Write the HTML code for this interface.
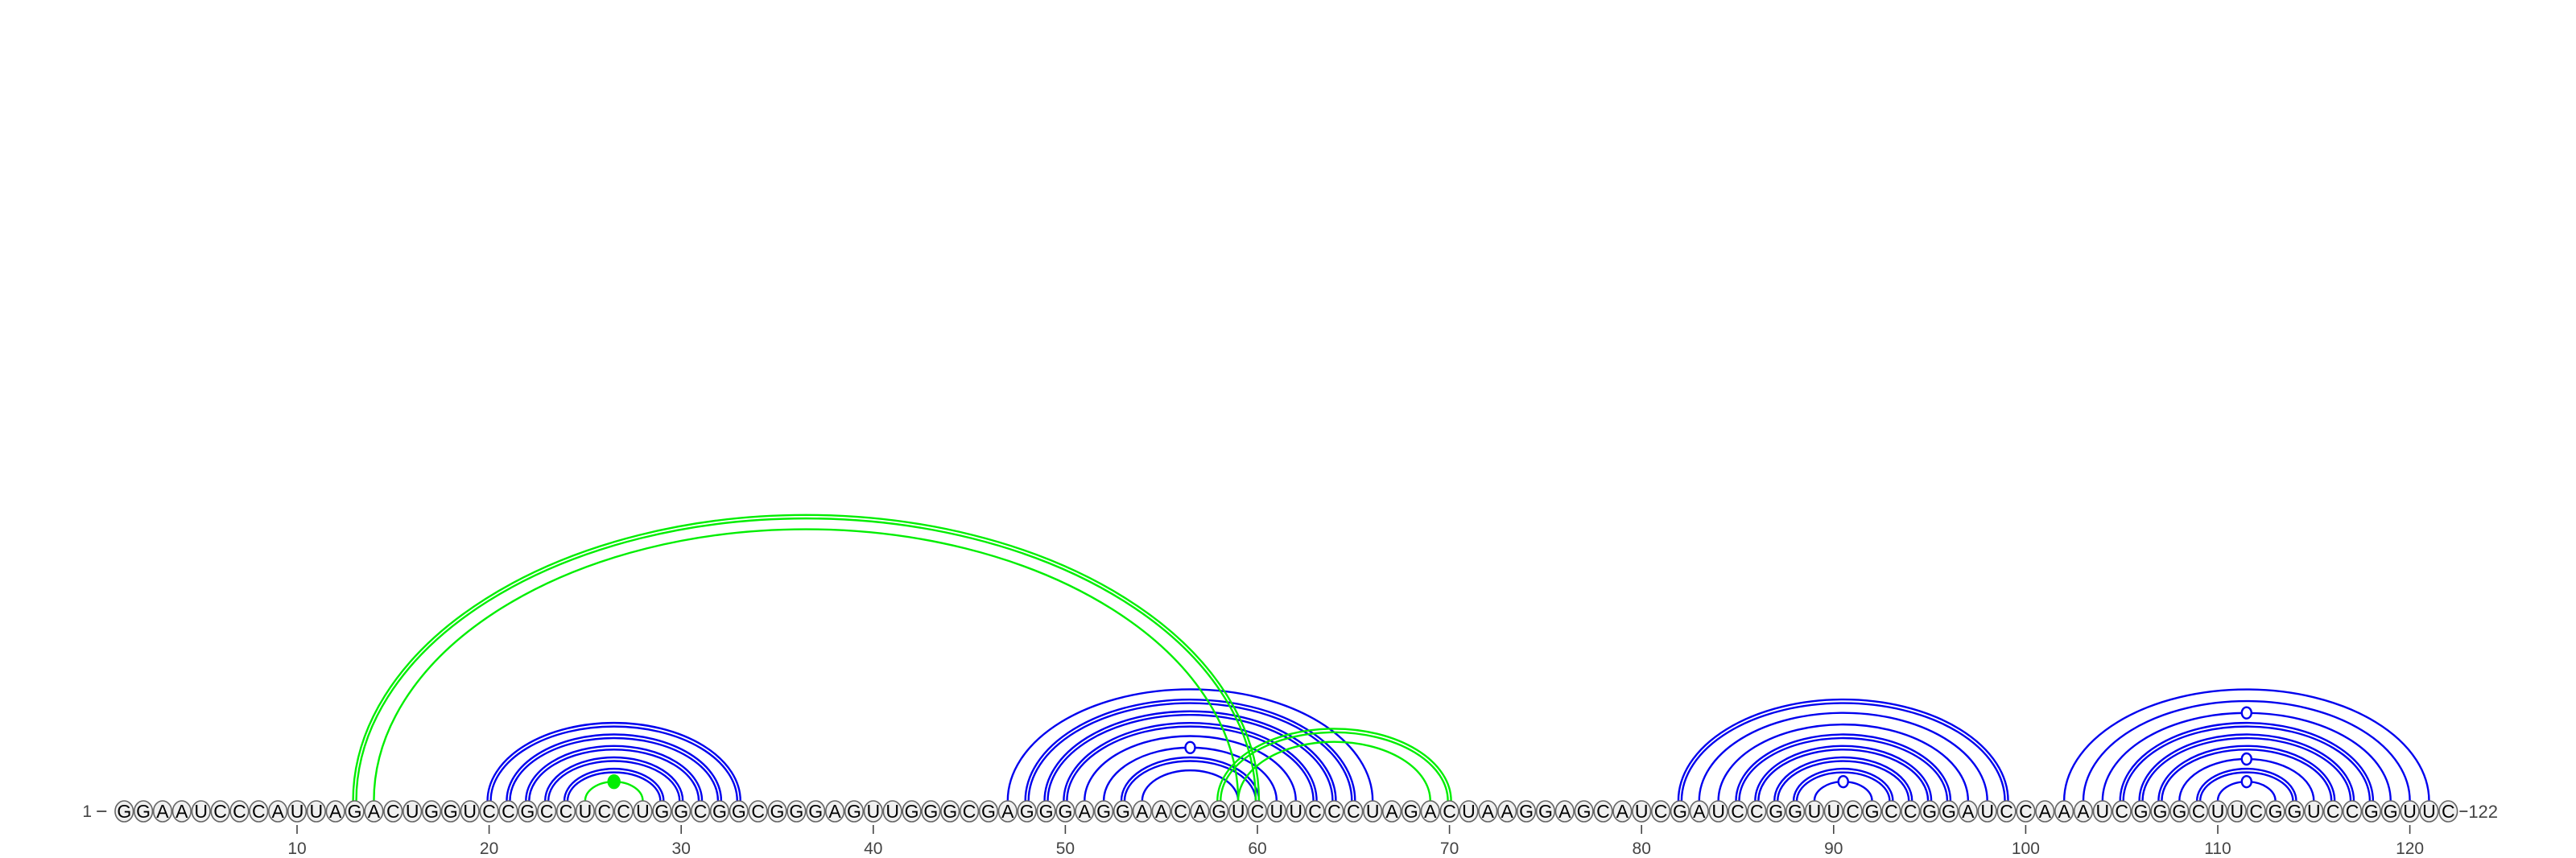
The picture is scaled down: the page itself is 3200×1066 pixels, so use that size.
<!DOCTYPE html>
<html><head><meta charset="utf-8"><style>
body{margin:0;background:#fff;}
svg{display:block;font-family:"Liberation Sans",sans-serif;}
</style></head><body>
<svg id="chart" width="3200" height="1066" viewBox="0 0 3200 1066" xmlns="http://www.w3.org/2000/svg">
<g id="arcs"></g>
<g id="nts"></g>
<g id="axis"></g>
</svg>
<script>
const sequence = "GGAAUCCCAUUAGACUGGUCCGCCUCCUGGCGGCGGGAGUUGGGCGAGGGAGGAACAGUCUUCCCUAGACUAAGGAGCAUCGAUCCGGUUCGCCGGAUCCAAAUCGGGCUUCGGUCCGGUUC";
// pairs: [i, j, style] style: 1 single, 2 double, 'o' open dot, 'f' filled dot
const bluePairs = [
 [20,33,2],[21,32,2],[22,31,2],[23,30,2],[24,29,2],
 [47,66,1],[48,65,2],[49,64,2],[50,63,2],[51,62,1],[52,61,'o'],[53,60,2],[54,59,1],
 [82,99,2],[83,98,1],[84,97,1],[85,96,2],[86,95,2],[87,94,2],[88,93,2],[89,92,'o'],
 [102,121,1],[103,120,1],[104,119,'o'],[105,118,2],[106,117,2],[107,116,2],[108,115,'o'],[109,114,2],[110,113,'o']
];
const greenPairs = [[25,28,'f'],[13,60,2],[14,59,1],[58,70,2],[59,69,1]];
const tickLabels = [10,20,30,40,50,60,70,80,90,100,110,120];

const NS="http://www.w3.org/2000/svg";
const X0=369, STEP=23.86, YB=995, YC=1008;
function xs(i){return X0+(i-10)*STEP;}
function hOf(span){return 0.29*span+3+0.00002*span*span;}
function mk(tag,attrs,parent){const e=document.createElementNS(NS,tag);for(const k in attrs)e.setAttribute(k,attrs[k]);parent.appendChild(e);return e;}
const arcsG=document.getElementById('arcs'), ntG=document.getElementById('nts'), axG=document.getElementById('axis');

function arcPath(x1,x2,h){const rx=(x2-x1)/2;return `M${x1},${YB} A${rx},${h} 0 0 1 ${x2},${YB}`;}
function drawPair(p,color){
  const [i,j,st]=p; const x1=xs(i), x2=xs(j), span=x2-x1, h=hOf(span);
  const g=mk('g',{},arcsG);
  
  
  if(st===2){
    mk('path',{d:arcPath(x1-2,x2+2,h+2),fill:'none',stroke:color,'stroke-width':2.4},g);
    mk('path',{d:arcPath(x1+2,x2-2,h-2.5),fill:'none',stroke:color,'stroke-width':2.4},g);
  } else {
    mk('path',{d:arcPath(x1,x2,h),fill:'none',stroke:color,'stroke-width':2.4},g);
    if(st==='o'||st==='f'){
      const c=mk('ellipse',{cx:(x1+x2)/2,cy:YB-h,rx:st==='f'?7:6,ry:st==='f'?8:7,fill:st==='f'?color:'#fff',stroke:color,'stroke-width':2.4},g);
      
      
    }
  }
}
bluePairs.forEach(p=>drawPair(p,'#0000ee'));
greenPairs.forEach(p=>drawPair(p,'#00ee00'));

for(let k=0;k<sequence.length;k++){
  const i=k+1, x=xs(i);
  const g=mk('g',{},ntG);
  
  
  mk('ellipse',{cx:x,cy:YC,rx:11.3,ry:13,fill:'#f0f0f0',stroke:'#666','stroke-width':1.6},g);
  const t=mk('text',{x:x,y:YC+8,'text-anchor':'middle','font-size':23,fill:'#000'},g);
  t.textContent=sequence[k];
}
const s1=mk('text',{x:xs(1)-46,y:YC+7,'font-size':21,fill:'#444','text-anchor':'middle'},axG);
s1.textContent='1';


mk('line',{x1:xs(1)-34,x2:xs(1)-22,y1:YC,y2:YC,stroke:'#444','stroke-width':1.8},axG);
mk('line',{x1:xs(122)+14,x2:xs(122)+24,y1:YC,y2:YC,stroke:'#444','stroke-width':1.8},axG);
const s2=mk('text',{x:xs(122)+25,y:YC+8,'font-size':22,fill:'#444'},axG);
s2.textContent='122';


tickLabels.forEach(v=>{
  const x=xs(v);
  mk('line',{x1:x,x2:x,y1:1025,y2:1036,stroke:'#444','stroke-width':1.6},axG);
  const t=mk('text',{x:x,y:1061,'text-anchor':'middle','font-size':21,fill:'#444'},axG);
  t.textContent=v;
  
  
});
</script>
</body></html>
